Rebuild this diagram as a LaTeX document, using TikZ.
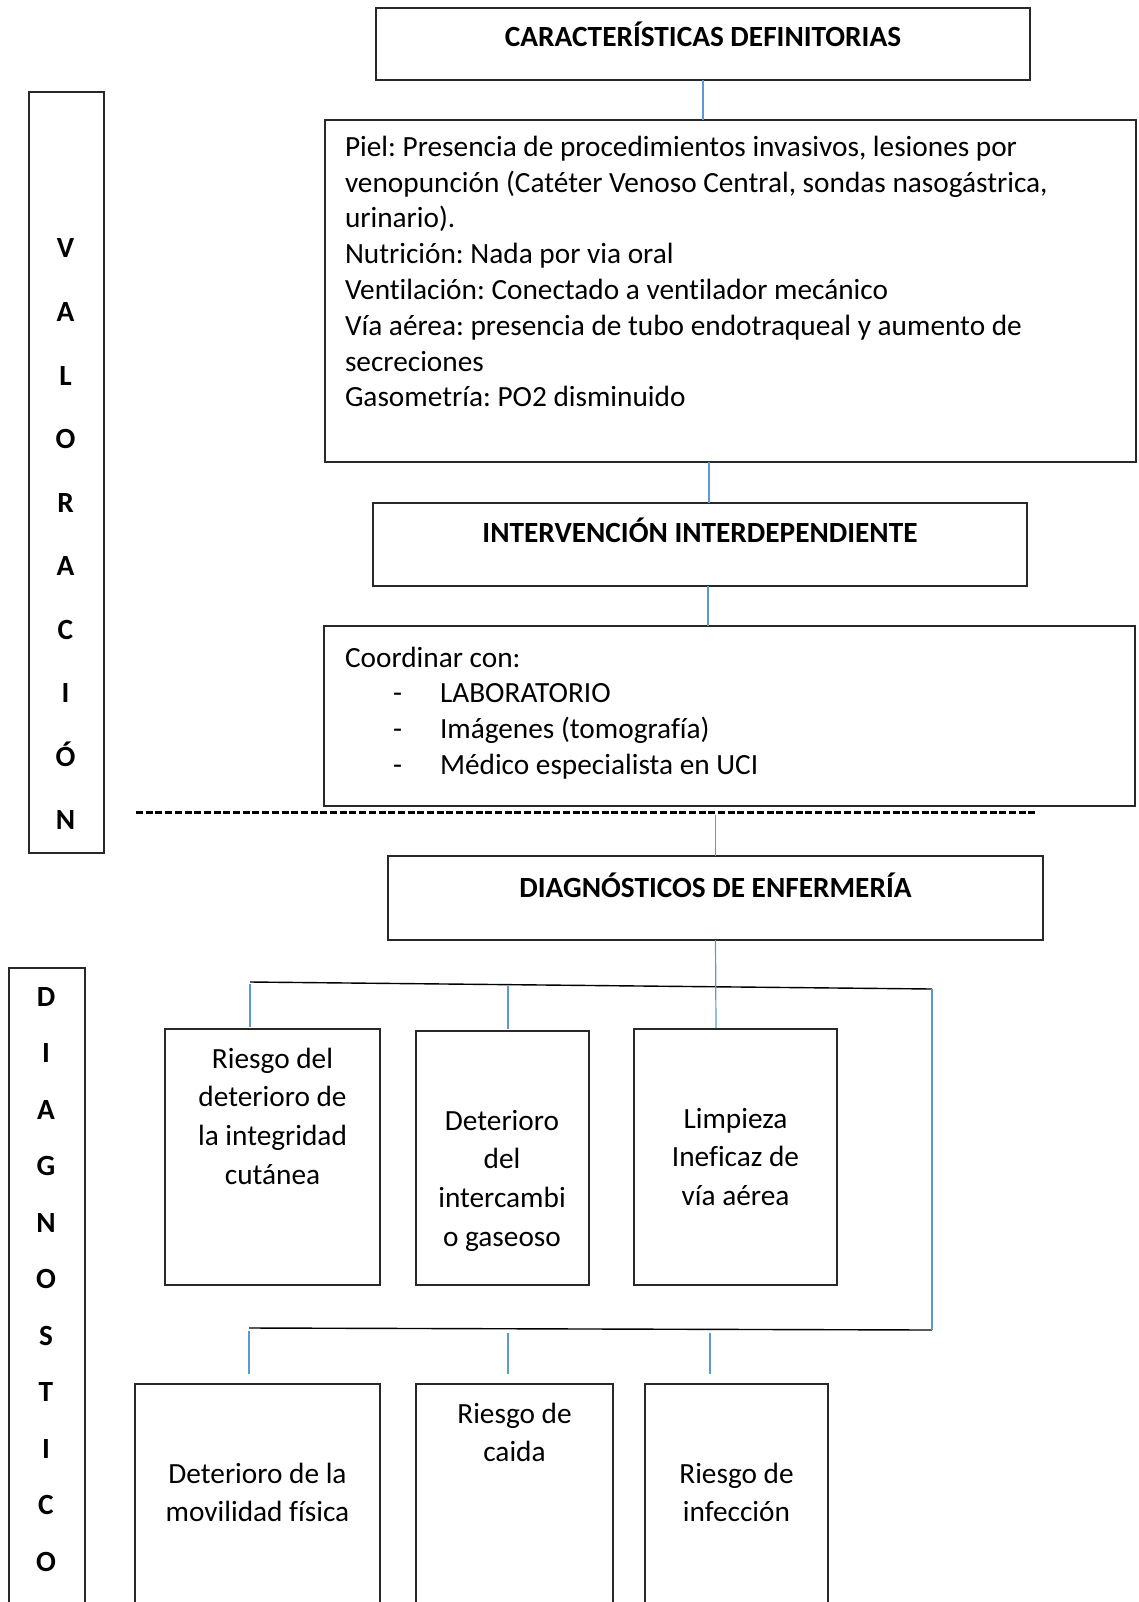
\documentclass[tikz,border=0pt]{standalone}
\usepackage{fontspec}
\setmainfont{Carlito}[Ligatures={NoCommon}]
\definecolor{linkblue}{RGB}{91,155,213}
\definecolor{boxline}{RGB}{40,40,40}
\begin{document}
\frenchspacing
\begin{tikzpicture}[x=1pt,y=-1pt,
  box/.style={draw=boxline, line width=1.4pt, inner sep=0pt, outer sep=0pt},
  conn/.style={draw=linkblue, line width=1.2pt},
  brk/.style={draw=black, line width=1.4pt},
  txt/.style={inner sep=0pt, outer sep=0pt, font=\fontsize{29.3}{35.75}\selectfont},
  ttl/.style={inner sep=0pt, outer sep=0pt, font=\fontsize{29.3}{35.75}\selectfont\bfseries},
]
\fill[white] (0,0) rectangle (1138,1602);
\useasboundingbox (0,0) rectangle (1138,1602);
\begin{scope}
\clip (0,0) rectangle (1138,1602);

% side boxes
\node[box, minimum width=75pt, minimum height=761pt] (val) at (66.5,472.5) {};
\foreach \l [count=\i from 0] in {V,A,L,O,R,A,C,I,Ó,N}
  \node[ttl, anchor=base] (v\i) at (65.5,{258+63.5*\i}) {\l};
\node[box, minimum width=76pt, minimum height=682pt] (diag) at (47,1309) {};
\foreach \l [count=\i from 0] in {D,I,A,G,N,O,S,T,I,C,O}
  \node[ttl, anchor=base] (g\i) at (46,{1006+56.5*\i}) {\l};

% main column
\node[box, minimum width=654pt, minimum height=72pt] (b1) at (703,44) {};
\node[ttl, anchor=base] (t1) at (703,46.5) {CARACTERÍSTICAS DEFINITORIAS};

\node[box, minimum width=811pt, minimum height=342pt] (b2) at (730.5,291) {};
\foreach \t [count=\i from 0] in {
  {Piel: Presencia de procedimientos invasivos, lesiones por},
  {venopunción (Catéter Venoso Central, sondas nasogástrica,},
  {urinario).},
  {Nutrición: Nada por via oral},
  {Ventilación: Conectado a ventilador mecánico},
  {Vía aérea: presencia de tubo endotraqueal y aumento de},
  {secreciones},
  {Gasometría: PO2 disminuido}}
  \node[txt, anchor=base west] (p\i) at (345,{156.5+35.75*\i}) {\t};

\node[box, minimum width=654pt, minimum height=83pt] (b3) at (700,544.5) {};
\node[ttl, anchor=base] (t3) at (700,542) {INTERVENCIÓN INTERDEPENDIENTE};

\node[box, minimum width=811pt, minimum height=180pt] (b4) at (729.5,716) {};
\node[txt, anchor=base west] (c0) at (345,667) {Coordinar con:};
\foreach \t [count=\i from 1] in {LABORATORIO,Imágenes (tomografía),Médico especialista en UCI}{
  \node[txt, anchor=base west] (d\i) at (393,{667+35.75*\i}) {-};
  \node[txt, anchor=base west] (c\i) at (440,{667+35.75*\i}) {\t};
}

\coordinate (dl) at (136,812.5);
\coordinate (dr) at (1037,812.5);
\draw[black, line width=2.6pt, dash pattern=on 7pt off 2.7pt] (dl) -- (dr);

\node[box, minimum width=655pt, minimum height=84pt] (b5) at (715.5,898) {};
\node[ttl, anchor=base] (t5) at (715.5,897) {DIAGNÓSTICOS DE ENFERMERÍA};

% connectors in the column
\draw[conn] (b1.south) -- (b1.south |- b2.north);
\draw[conn] ([xshift=9pt]b3.north |- b2.south) -- ([xshift=9pt]b3.north);
\draw[conn] ([xshift=8pt]b3.south) -- ([xshift=8pt]b3.south |- b4.north);
\draw[conn] ([yshift=-2pt]b5.north |- dl) -- (b5.north);

% diagnosis boxes, first row
\node[box, minimum width=215pt, minimum height=256pt] (A) at (272.5,1157) {};
\node[box, minimum width=173pt, minimum height=254pt] (B) at (502.5,1158) {};
\node[box, minimum width=203pt, minimum height=256pt] (C) at (735.5,1157) {};
\foreach \t [count=\i from 0] in {Riesgo del,deterioro de,la integridad,cutánea}
  \node[txt, anchor=base] (a\i) at (272.5,{1068+38.8*\i}) {\t};
\foreach \t [count=\i from 0] in {Deterioro,del,intercambi,o gaseoso}
  \node[txt, anchor=base] (bb\i) at (502,{1130+38.8*\i}) {\t};
\foreach \t [count=\i from 0] in {Limpieza,Ineficaz de,vía aérea}
  \node[txt, anchor=base] (cc\i) at (735.5,{1128+38.8*\i}) {\t};

% diagnosis boxes, second row
\node[box, minimum width=245pt, minimum height=300pt] (D) at (257.5,1534) {};
\node[box, minimum width=197pt, minimum height=300pt] (E) at (514.5,1534) {};
\node[box, minimum width=183pt, minimum height=300pt] (F) at (736.5,1534) {};
\foreach \t [count=\i from 0] in {Deterioro de la,movilidad física}
  \node[txt, anchor=base] (dd\i) at (257.5,{1483+38.8*\i}) {\t};
\foreach \t [count=\i from 0] in {Riesgo de,caida}
  \node[txt, anchor=base] (ee\i) at (514.5,{1423+38.8*\i}) {\t};
\foreach \t [count=\i from 0] in {Riesgo de,infección}
  \node[txt, anchor=base] (ff\i) at (736.5,{1483+38.8*\i}) {\t};

% brackets
\coordinate (tl) at (250,982);
\coordinate (tr) at (932,989);
\coordinate (bl) at (249,1328);
\coordinate (br) at (932,1330);
\coordinate (tm) at (508,986);
\draw[brk] (tl) -- (tr);
\draw[brk] (bl) -- (br);
\draw[conn] (tr) -- (br);
\draw[conn] ([yshift=-2pt]tl) -- ([yshift=2pt]tl |- A.north);
\draw[conn] (tm) -- ([yshift=2pt]tm |- B.north);
\draw[conn] (b5.south) -- ([xshift=-19.5pt,yshift=1pt]C.north);

\coordinate (s1) at (249,1331);
\coordinate (s2) at (508,1333);
\coordinate (s3) at (710,1333);
\draw[conn] (s1) -- ([yshift=10pt]s1 |- D.north);
\draw[conn] (s2) -- ([yshift=10pt]s2 |- E.north);
\draw[conn] (s3) -- ([yshift=10pt]s3 |- F.north);
\end{scope}
\end{tikzpicture}
\end{document}
